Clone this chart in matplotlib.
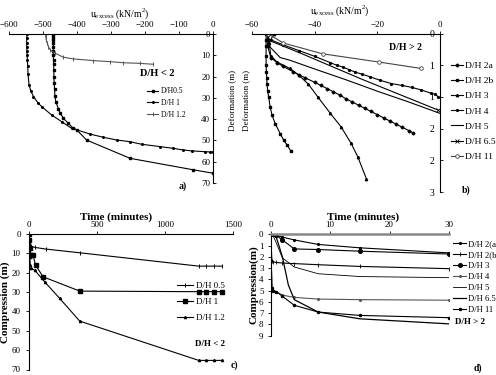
import matplotlib
matplotlib.use("Agg")
import matplotlib.pyplot as plt
from matplotlib.ticker import FixedLocator, FixedFormatter

plt.rcParams['font.family'] = ['Liberation Serif', 'DejaVu Serif']

W, H = 496, 375

# ---------------- Panel a data ----------------
a_labels = ["D/H0.5", "D/H 1", "D/H 1.2"]
a05_x = [-470, -470, -470, -470, -470, -470, -470, -470, -469, -469, -468, -468, -467, -466, -465, -462, -455, -450, -440, -426, -411, -401, -372, -244, -58, 0]
a05_y = [0, 1, 2, 3, 4, 6, 8, 10, 12, 14, 17, 20, 23, 26, 29, 32, 35, 37, 39.6, 41.9, 44.3, 45, 49.8, 58.4, 63.8, 65.4]
a1_x = [-547, -548, -548, -548, -547, -547, -546, -545, -544, -541, -535, -528, -514, -504, -475, -445, -416, -401, -362, -323, -283, -244, -210, -156, -117, -88, -63, -24, -9, 0]
a1_y = [0, 2, 4, 6, 8, 10, 12, 15, 19, 24, 27, 29.4, 32.5, 34.1, 38, 41.2, 44.3, 45, 47, 48.5, 49.8, 50.6, 51.8, 52.9, 53.7, 54.5, 54.9, 55.3, 55.4, 55.4]
a12_x = [-492, -492, -491, -490, -487, -484, -479, -465, -440, -411, -352, -303, -264, -215, -177]
a12_y = [0, 1, 2, 3, 4.4, 6, 7.5, 9, 10.9, 11.7, 12.5, 13, 13.5, 13.8, 14.2]
a_xticks = [-600, -500, -400, -300, -200, -100, 0]
a_yticks = [0, 10, 20, 30, 40, 50, 60, 70]

# ---------------- Panel b data ----------------
b_labels = ["D/H 2a", "D/H 2b", "D/H 3", "D/H 4", "D/H 5", "D/H 6.5", "D/H 11"]
b2a_x = [-55, -55, -55, -54, -52, -50, -47, -45, -43, -40, -38, -36, -34, -32, -30, -28, -26, -24, -22, -20, -18, -16, -14, -12, -10, -8.5]
b2a_y = [0.02, 0.1, 0.2, 0.38, 0.46, 0.52, 0.6, 0.65, 0.7, 0.77, 0.82, 0.87, 0.92, 0.97, 1.03, 1.08, 1.13, 1.18, 1.23, 1.28, 1.33, 1.38, 1.43, 1.48, 1.53, 1.57]
b2b_x = [-55.5, -55.5, -55.5, -55.5, -55.5, -55.4, -55.3, -55.2, -55, -54.7, -54.2, -53.6, -52.6, -51, -49.9, -48.8, -47.5]
b2b_y = [0, 0.1, 0.2, 0.35, 0.5, 0.6, 0.7, 0.8, 0.9, 1.0, 1.16, 1.29, 1.42, 1.58, 1.68, 1.76, 1.86]
b3_x = [-53, -54.5, -54, -52, -48, -45, -42, -39, -35, -31.6, -28.4, -26.2, -23.5]
b3_y = [0, 0.15, 0.35, 0.45, 0.55, 0.66, 0.8, 1.0, 1.26, 1.47, 1.73, 1.95, 2.29]
b4_x = [-54, -50, -45, -40, -35, -33, -31, -29, -27, -25, -22.5, -19, -15.5, -12, -9, -6, -3, -1.5, -0.5]
b4_y = [0.1, 0.18, 0.27, 0.36, 0.46, 0.5, 0.53, 0.57, 0.61, 0.64, 0.68, 0.74, 0.79, 0.82, 0.85, 0.89, 0.94, 0.96, 1.0]
b5_x = [-55, -54.5, -51, -48, -40, -30, -20, -10, 0]
b5_y = [0.05, 0.2, 0.38, 0.42, 0.56, 0.73, 0.91, 1.08, 1.26]
b65_x = [-55, -54, -45, -35, -25, -15, -5, -0.5]
b65_y = [0.05, 0.12, 0.3, 0.51, 0.72, 0.92, 1.12, 1.21]
b11_x = [-55, -50, -37.5, -19.5, -6.2]
b11_y = [0, 0.15, 0.32, 0.45, 0.55]
b_xticks = [-60, -40, -20, 0]
b_yticks = [0, 0.5, 1.0, 1.5, 2.0, 2.5]
b_yticklabels = ["0", "1", "1", "2", "2", "3"]

# ---------------- Panel c data ----------------
c_labels = ["D/H 0.5", "D/H 1", "D/H 1.2"]
c05_t = [0, 0, 5, 17, 42, 125, 373, 1248, 1304, 1360, 1419]
c05_v = [0, 2.2, 4.8, 6.4, 6.9, 7.8, 9.7, 16.6, 16.6, 16.6, 16.6]
c1_t = [0, 0, 5, 17, 29, 49, 103, 373, 1248, 1304, 1360, 1419]
c1_v = [0, 3, 7, 10.9, 10.9, 16.1, 22.1, 29.5, 29.8, 29.8, 29.8, 29.8]
c12_t = [0, 0, 5, 10, 17, 42, 115, 226, 373, 1248, 1304, 1360, 1419]
c12_v = [0, 5.7, 12, 16, 17.8, 18.7, 24.7, 33.3, 45, 65.3, 65.3, 65.3, 65.3]
c_xticks = [0, 500, 1000, 1500]
c_yticks = [0, 10, 20, 30, 40, 50, 60, 70]

# ---------------- Panel d data ----------------
d_labels = ["D/H 2(a)", "D/H 2(b)", "D/H 3", "D/H 4", "D/H 5", "D/H 6.5", "D/H 11"]
d2a_t = [0, 0.5, 1, 2, 4, 8, 15, 30]
d2a_v = [0, 0.05, 0.1, 0.25, 0.5, 0.9, 1.2, 1.65]
d2b_t = [0, 0.25, 0.5, 1, 2, 4, 8, 15, 30]
d2b_v = [0, 2.4, 2.45, 2.5, 2.55, 2.6, 2.7, 2.85, 3.05]
d3_t = [0, 0.5, 1, 2, 4, 8, 15, 30]
d3_v = [0, 0, 0.1, 0.5, 1.3, 1.35, 1.5, 1.75]
d4_t = [0, 0.25, 0.5, 1, 2, 4, 8, 15, 30]
d4_v = [0, 4.8, 5.0, 5.1, 5.4, 5.6, 5.75, 5.8, 5.85]
d5_t = [0, 0.5, 1, 2, 4, 8, 15, 30]
d5_v = [0, 0.2, 0.8, 2.1, 2.9, 3.5, 3.75, 3.85]
d65_t = [0, 0.5, 1, 2, 3, 4, 8, 15, 30]
d65_v = [0, 0.1, 0.3, 2.0, 4.5, 5.8, 6.9, 7.5, 7.95]
d11_t = [0, 0.25, 0.5, 1, 2, 4, 8, 15, 30]
d11_v = [0, 4.8, 5.0, 5.1, 5.5, 6.3, 6.9, 7.2, 7.4]
d_xticks = [0, 10, 20, 30]
d_yticks = [0, 1, 2, 3, 4, 5, 6, 7, 8, 9]

fig = plt.figure(figsize=(W / 100, H / 100), dpi=100)


def add_axes_px(x0, y0, x1, y1):
    return fig.add_axes([x0 / W, 1 - y1 / H, (x1 - x0) / W, (y1 - y0) / H])


def fx(px):
    return px / W


def fy(py):
    return 1 - py / H


TICK_FS = 6.5
LW = 0.8

# ================= Panel a =================
ax = add_axes_px(9, 34, 213, 183)
ax.set_xlim(-600, 0)
ax.set_ylim(70, 0)
ax.plot(a05_x, a05_y, color='black', lw=LW, marker='s', ms=1.6, label=a_labels[0])
ax.plot(a1_x, a1_y, color='black', lw=LW, marker='o', ms=1.2, label=a_labels[1])
ax.plot(a12_x, a12_y, color='black', lw=LW, marker='|', ms=2.5, mew=0.7, label=a_labels[2])
for s in ['bottom', 'right']:
    ax.spines[s].set_visible(False)
ax.spines['left'].set_position(('data', 0))
ax.xaxis.set_ticks_position('top')
ax.xaxis.set_major_locator(FixedLocator(a_xticks))
ax.yaxis.set_major_locator(FixedLocator(a_yticks))
ax.tick_params(axis='x', labelsize=TICK_FS, length=2, width=0.6, pad=1.5, direction='out')
ax.tick_params(axis='y', labelsize=TICK_FS, length=2, width=0.6, pad=2, direction='in')
ax.patch.set_visible(False)
h, l = ax.get_legend_handles_labels()
h[2].set_color('#555555')
fig.legend(h, l, loc='upper left', bbox_to_anchor=(fx(143), fy(83.5)), frameon=False,
           fontsize=5.5, handlelength=1.5, handletextpad=0.3, labelspacing=0.5, borderpad=0)
fig.text(fx(140), fy(73), "D/H < 2", fontsize=7.5, fontweight='bold', va='center')
fig.text(fx(120), fy(14), r"u$_{\mathregular{excess}}$ (kN/m$^{\mathregular{2}}$)", fontsize=7,
         ha='center', va='center')
fig.text(fx(232), fy(100), "Deformation (m)", fontsize=6.5, rotation=90, ha='center', va='center')
fig.text(fx(183), fy(186), "a)", fontsize=7, fontweight='bold', ha='center', va='center')

# ================= Panel b =================
bx = add_axes_px(252, 33.5, 440, 192)
bx.set_xlim(-60, 0)
bx.set_ylim(2.5, 0)
bx.plot(b2a_x, b2a_y, color='black', lw=LW, marker='D', ms=1.5, label=b_labels[0])
bx.plot(b2b_x, b2b_y, color='black', lw=LW, marker='s', ms=2.0, label=b_labels[1])
bx.plot(b3_x, b3_y, color='black', lw=LW, marker='^', ms=1.7, label=b_labels[2])
bx.plot(b4_x, b4_y, color='black', lw=LW, marker='o', ms=1.3, label=b_labels[3])
bx.plot(b5_x, b5_y, color='black', lw=LW, label=b_labels[4])
bx.plot(b65_x, b65_y, color='black', lw=LW, marker='x', ms=2.5, mew=0.6, markevery=[len(b65_x) - 1], label=b_labels[5])
bx.plot(b11_x, b11_y, color='#444444', lw=LW, marker='o', ms=2.6, mfc='white', mew=0.6, label=b_labels[6])
for s in ['bottom', 'right']:
    bx.spines[s].set_visible(False)
bx.spines['left'].set_position(('data', 0))
bx.xaxis.set_ticks_position('top')
bx.xaxis.set_major_locator(FixedLocator(b_xticks))
bx.yaxis.set_major_locator(FixedLocator(b_yticks))
bx.yaxis.set_major_formatter(FixedFormatter(b_yticklabels))
bx.tick_params(axis='x', labelsize=TICK_FS, length=2, width=0.6, pad=1.5)
bx.tick_params(axis='y', labelsize=7, length=2, width=0.6, pad=4, direction='in')
bx.patch.set_visible(False)
h, l = bx.get_legend_handles_labels()
fig.legend(h, l, loc='upper left', bbox_to_anchor=(fx(446), fy(56.5)), frameon=False,
           fontsize=6.8, handlelength=1.3, handletextpad=0.25, labelspacing=0.7, borderpad=0)
fig.text(fx(405), fy(47), "D/H > 2", fontsize=7, fontweight='bold', ha='center', va='center')
fig.text(fx(340), fy(11), r"u$_{\mathregular{excess}}$ (kN/m$^{\mathregular{2}}$)", fontsize=7,
         ha='center', va='center')
fig.text(fx(246), fy(100), "Deformation (m)", fontsize=6.5, rotation=90, ha='center', va='center')
fig.text(fx(466), fy(190), "b)", fontsize=7, fontweight='bold', ha='center', va='center')

# ================= Panel c =================
cx = add_axes_px(29, 234, 233, 369.5)
cx.set_xlim(0, 1500)
cx.set_ylim(70, 0)
cx.plot(c05_t, c05_v, color='black', lw=LW, marker='|', ms=2.5, mew=0.7, label=c_labels[0])
cx.plot(c1_t, c1_v, color='black', lw=LW, marker='s', ms=2.3, label=c_labels[1])
cx.plot(c12_t, c12_v, color='black', lw=LW, marker='^', ms=1.6, label=c_labels[2])
for s in ['bottom', 'right']:
    cx.spines[s].set_visible(False)
cx.xaxis.set_ticks_position('top')
cx.xaxis.set_major_locator(FixedLocator(c_xticks))
cx.yaxis.set_major_locator(FixedLocator(c_yticks))
cx.tick_params(axis='both', labelsize=TICK_FS, length=2, width=0.6, pad=1.5)
cx.tick_params(axis='y', pad=4)
cx.patch.set_visible(False)
h, l = cx.get_legend_handles_labels()
fig.legend(h, l, loc='upper left', bbox_to_anchor=(fx(172), fy(277.5)), frameon=False,
           fontsize=6.5, handlelength=1.8, handletextpad=0.4, labelspacing=0.85, borderpad=0)
fig.text(fx(210), fy(344), "D/H < 2", fontsize=6.5, fontweight='bold', ha='center', va='center')
fig.text(fx(116), fy(217), "Time (minutes)", fontsize=8, fontweight='bold', ha='center', va='center')
fig.text(fx(5), fy(302), "Compression (m)", fontsize=8, fontweight='bold', rotation=90,
         ha='center', va='center')
fig.text(fx(234), fy(365), "c)", fontsize=7, fontweight='bold', ha='center', va='center')

# ================= Panel d =================
dx = add_axes_px(270.5, 234.3, 449, 335.7)
dx.set_xlim(0, 30)
dx.set_ylim(9, 0)
dx.plot(d2a_t, d2a_v, color='black', lw=LW, marker='o', ms=1.3, label=d_labels[0])
dx.plot(d2b_t, d2b_v, color='black', lw=LW, marker='|', ms=2.2, mew=0.6, label=d_labels[1])
dx.plot(d3_t, d3_v, color='black', lw=LW, marker='o', ms=2.6, label=d_labels[2])
dx.plot(d4_t, d4_v, color='#555555', lw=LW, marker='o', ms=1.2, label=d_labels[3])
dx.plot(d5_t, d5_v, color='black', lw=0.6, label=d_labels[4])
dx.plot(d65_t, d65_v, color='black', lw=0.9, label=d_labels[5])
dx.plot(d11_t, d11_v, color='black', lw=LW, marker='o', ms=1.5, label=d_labels[6])
for s in ['bottom', 'right']:
    dx.spines[s].set_visible(False)
dx.spines['top'].set_color('#888888')
dx.spines['top'].set_linewidth(1.8)
dx.xaxis.set_ticks_position('top')
dx.xaxis.set_major_locator(FixedLocator(d_xticks))
dx.yaxis.set_major_locator(FixedLocator(d_yticks))
dx.tick_params(axis='both', labelsize=TICK_FS, length=2, width=0.6, pad=1.5)
dx.tick_params(axis='y', pad=3)
dx.patch.set_visible(False)
h, l = dx.get_legend_handles_labels()
fig.legend(h, l, loc='upper left', bbox_to_anchor=(fx(449), fy(236)), frameon=False,
           fontsize=6.2, handlelength=1.5, handletextpad=0.25, labelspacing=0.33, borderpad=0)
fig.text(fx(470), fy(322), "D/H > 2", fontsize=6.5, fontweight='bold', ha='center', va='center')
fig.text(fx(363), fy(217), "Time (minutes)", fontsize=8, fontweight='bold', ha='center', va='center')
fig.text(fx(254), fy(285), "Compression(m)", fontsize=8, fontweight='bold', rotation=90,
         ha='center', va='center')
fig.text(fx(478), fy(368), "d)", fontsize=7, fontweight='bold', ha='center', va='center')

fig.savefig("out.png", dpi=100)
